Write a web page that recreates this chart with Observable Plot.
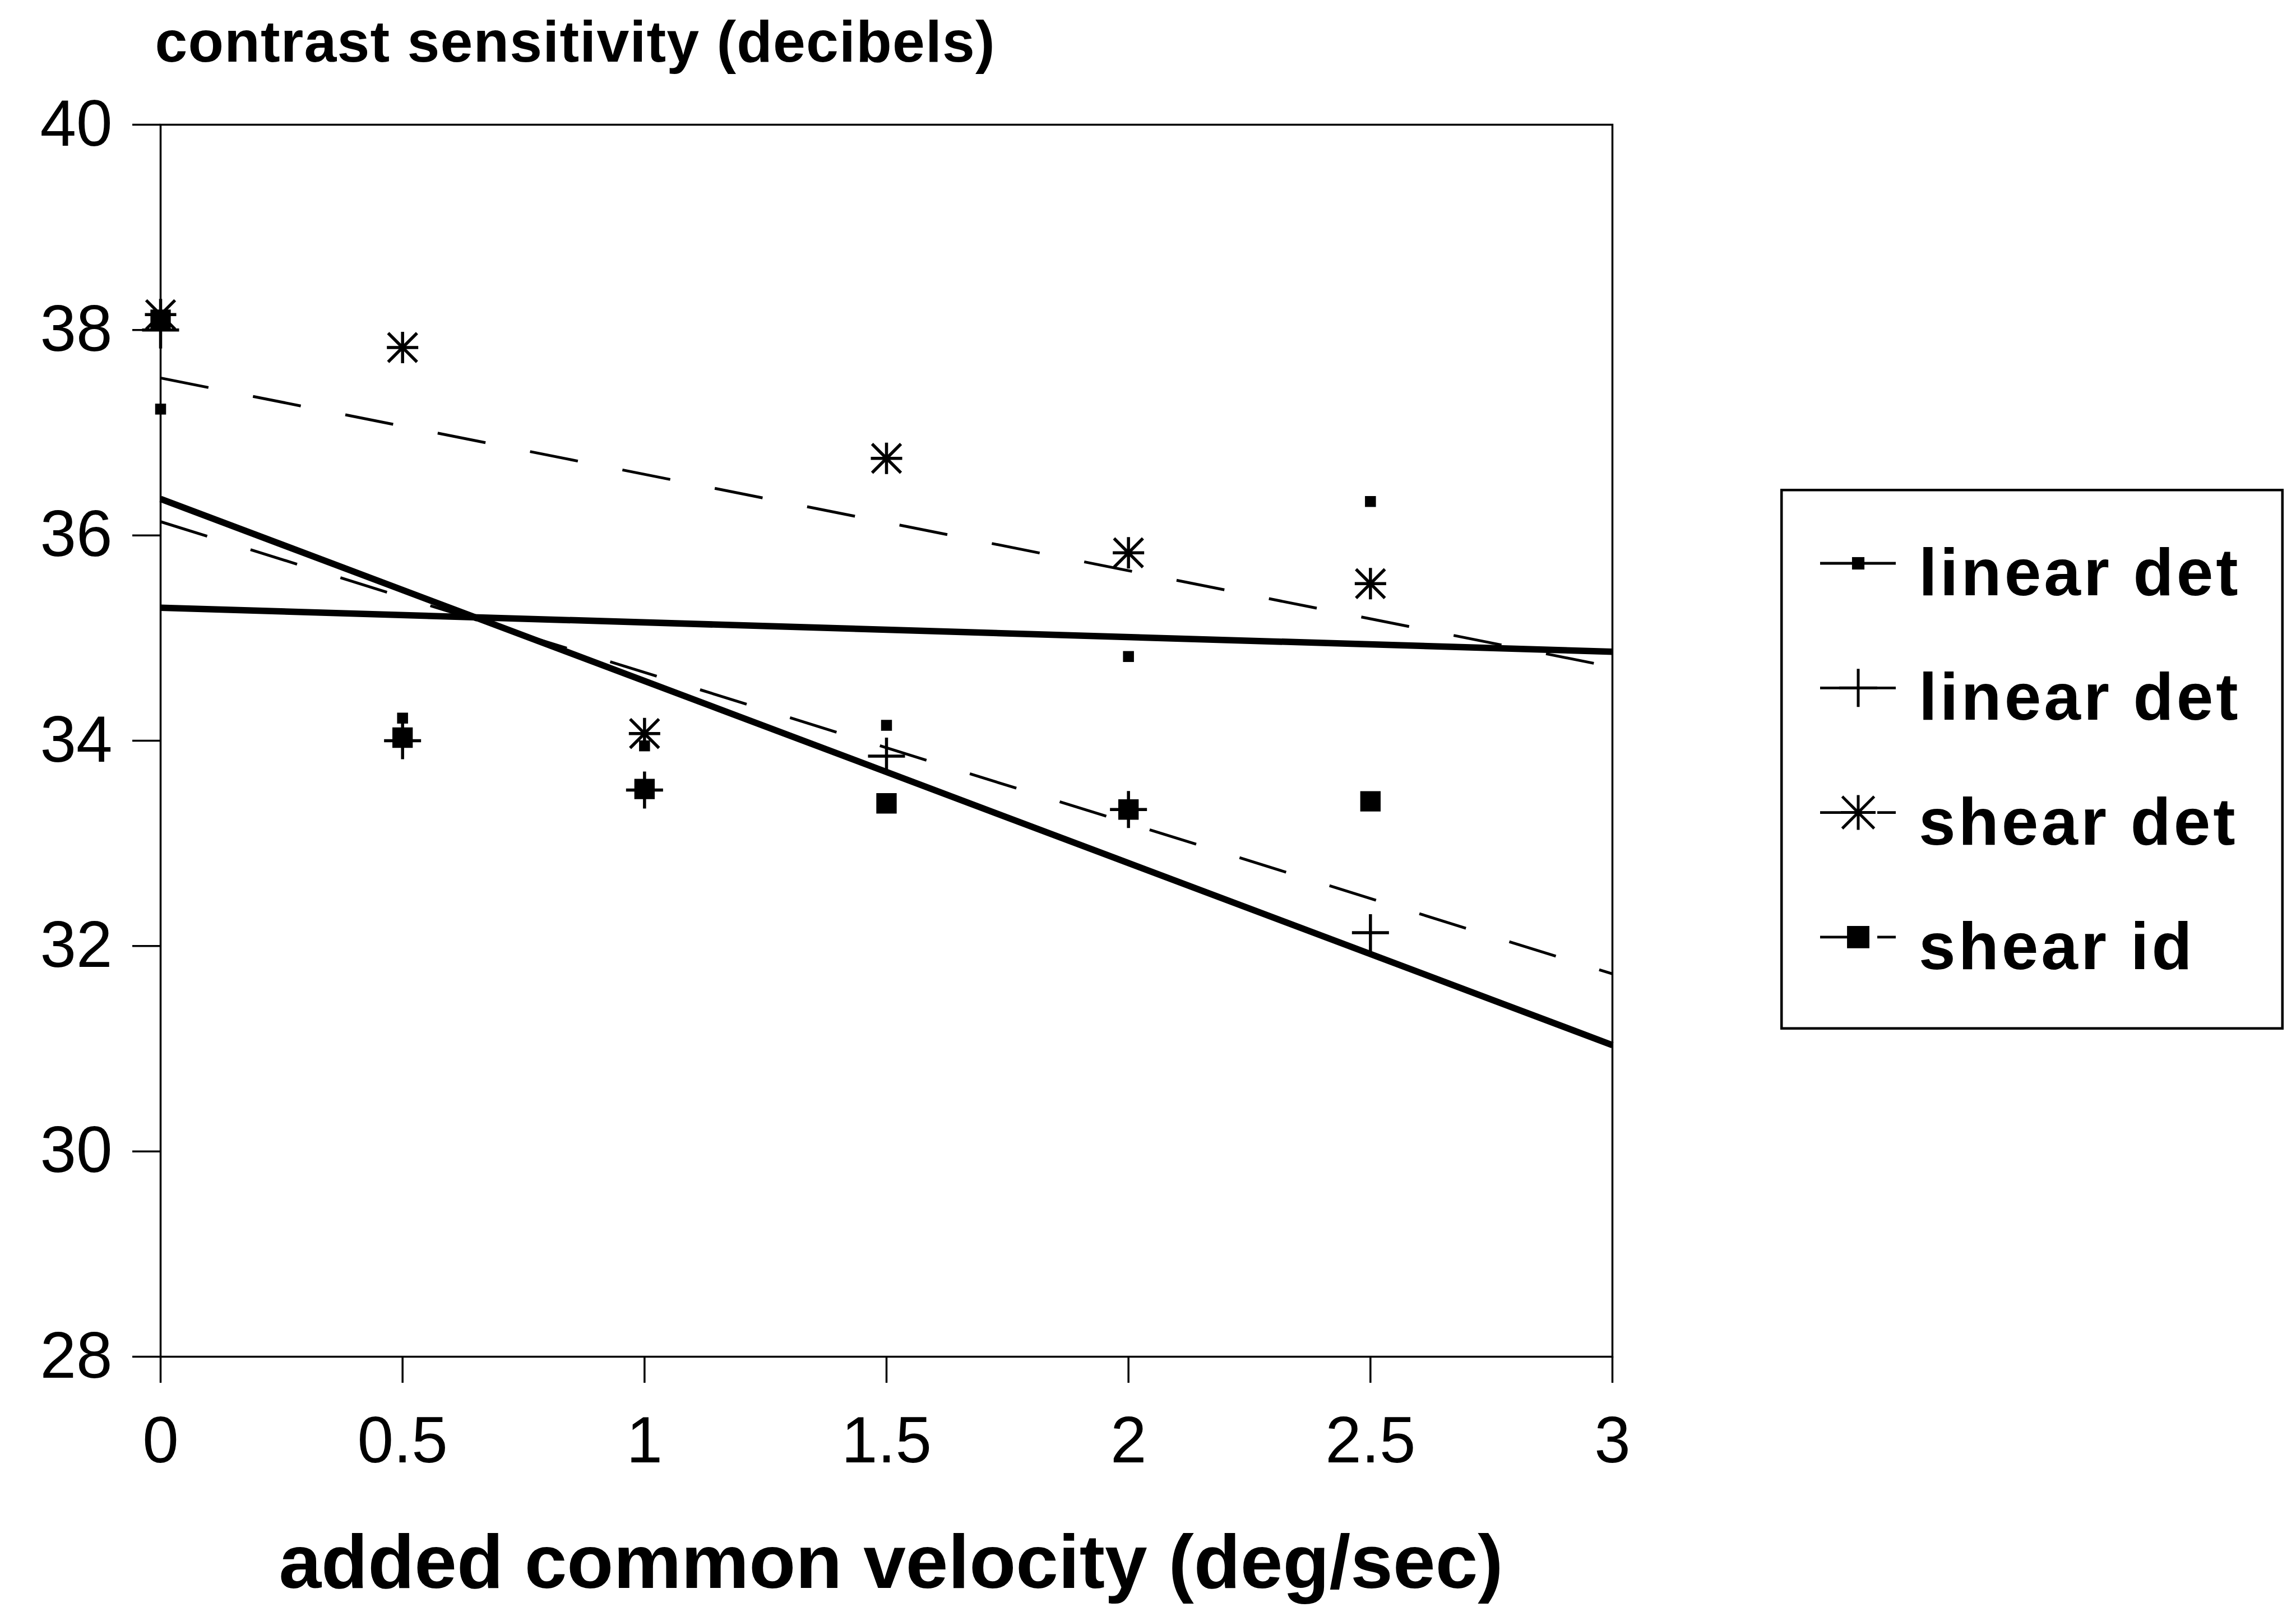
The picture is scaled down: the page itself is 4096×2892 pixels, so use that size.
<!DOCTYPE html>
<html>
<head>
<meta charset="utf-8">
<script src="https://cdn.jsdelivr.net/npm/d3@7"></script>
<script src="https://cdn.jsdelivr.net/npm/@observablehq/plot@0.6"></script>
<style>
html, body { margin: 0; padding: 0; background: #fff; }
#wrap { position: relative; width: 4096px; height: 2892px; overflow: hidden; background: #fff; }
</style>
</head>
<body>
<div id="wrap"></div>
<script>
// ---------- data ----------
const velocity = [0, 0.5, 1, 1.5, 2, 2.5];
const linearDetDot  = [37.23, 34.22, 33.95, 34.15, 34.82, 36.33];
const linearDetPlus = [38.0, 34.0, 33.52, 33.85, 33.33, 32.13];
const shearDet      = [38.15, 37.83, 34.07, 36.75, 35.83, 35.53];
const shearId       = [38.1, 34.03, 33.53, 33.39, 33.33, 33.41];
const seriesNames = ["linear det", "linear det", "shear det", "shear id"];
const seriesValues = [linearDetDot, linearDetPlus, shearDet, shearId];
const trendExtent = [0, 3];
const xTicks = [0, 0.5, 1, 1.5, 2, 2.5, 3];
const yTicks = [28, 30, 32, 34, 36, 38, 40];
const xDomain = [0, 3];
const yDomain = [28, 40];
const yTitle = "contrast sensitivity (decibels)";
const xTitle = "added common velocity (deg/sec)";

// ---------- symbols & styles ----------
const plusSym = {draw(c, size) { const r = Math.sqrt(size / Math.PI); c.moveTo(-r, 0); c.lineTo(r, 0); c.moveTo(0, -r); c.lineTo(0, r); }};
const asteriskSym = {draw(c, size) { const r = Math.sqrt(size / Math.PI); const d = r * 0.92;
  c.moveTo(-r, 0); c.lineTo(r, 0); c.moveTo(0, -r); c.lineTo(0, r);
  c.moveTo(-d, -d); c.lineTo(d, d); c.moveTo(-d, d); c.lineTo(d, -d); }};
const styles = [
  {symbol: d3.symbolSquare, r: 11, lr: 12.5, fill: "black", stroke: "none", dashed: false},
  {symbol: plusSym, r: 33, lr: 34, fill: "none", stroke: "black", dashed: false},
  {symbol: asteriskSym, r: 28, lr: 31, fill: "none", stroke: "black", dashed: true},
  {symbol: d3.symbolSquare, r: 20.5, lr: 22.5, fill: "black", stroke: "none", dashed: true}
];

// ---------- derived: points and least-squares trend lines ----------
const points = seriesValues.map((vals, s) => velocity.map((x, i) => ({s, x, y: vals[i]})));
function fit(xs, ys) {
  const mx = d3.mean(xs), my = d3.mean(ys);
  const b = d3.sum(xs, (x, i) => (x - mx) * (ys[i] - my)) / d3.sum(xs, x => (x - mx) ** 2);
  return x => my + b * (x - mx);
}
const trends = seriesValues.map((vals, s) => { const f = fit(velocity, vals); return trendExtent.map(x => ({s, x, y: f(x)})); });
const solidTrends = trends.filter((t, s) => !styles[s].dashed).flat();
const dashedTrends = trends.filter((t, s) => styles[s].dashed).flat();

const font = "'Liberation Sans', Arial, Helvetica, sans-serif";

const chart = Plot.plot({
  width: 4096,
  height: 2892,
  marginLeft: 286,
  marginRight: 1220,
  marginTop: 222,
  marginBottom: 472,
  style: {fontFamily: font, background: "white", color: "black", overflow: "visible"},
  x: {domain: xDomain},
  y: {domain: yDomain},
  marks: [
    Plot.frame({stroke: "black", strokeWidth: 3.5}),
    Plot.axisX({ticks: xTicks, tickSize: 47, tickPadding: 59, fontSize: 116, strokeWidth: 3.5, label: null, tickFormat: d3.format("")}),
    Plot.axisY({ticks: yTicks, tickSize: 50, tickPadding: 36, fontSize: 116, strokeWidth: 3.5, label: null}),
    Plot.line(solidTrends, {x: "x", y: "y", z: "s", stroke: "black", strokeWidth: 11.5, strokeLinecap: "butt"}),
    Plot.line(dashedTrends, {x: "x", y: "y", z: "s", stroke: "black", strokeWidth: 5, strokeDasharray: "87 81", strokeLinecap: "butt"}),
    ...points.map((pts, s) => Plot.dot(pts, {
      x: "x", y: "y", r: styles[s].r, symbol: styles[s].symbol,
      fill: styles[s].fill, stroke: styles[s].stroke, strokeWidth: 5.5
    })),
    Plot.text([yTitle], {text: d => d, frameAnchor: "top-left", textAnchor: "start", lineAnchor: "bottom",
      dx: -10, dy: -113, fontSize: 104, fontWeight: "bold"}),
    Plot.text([xTitle], {text: d => d, frameAnchor: "bottom", textAnchor: "middle", lineAnchor: "bottom",
      dx: 8, dy: 412, fontSize: 136, fontWeight: "bold"})
  ]
});
d3.select(chart).selectAll("text").filter(function() { return this.textContent === yTitle; })
  .style("letter-spacing", "1.2px");
document.getElementById("wrap").appendChild(chart);

// ---------- legend (right side) ----------
const LW = 898, LH = 965;
const lg = d3.create("svg")
  .attr("width", LW).attr("height", LH)
  .style("position", "absolute").style("left", "3176px").style("top", "872px")
  .style("font-family", font);
lg.append("rect").attr("x", 2.25).attr("y", 2.25).attr("width", LW - 4.5).attr("height", LH - 4.5)
  .attr("fill", "white").attr("stroke", "black").attr("stroke-width", 4.5);
seriesNames.forEach((name, i) => {
  const st = styles[i];
  const g = lg.append("g").attr("transform", `translate(0,${133 + i * 222.3})`);
  const seg = (x1, x2) => g.append("line").attr("x1", x1).attr("x2", x2).attr("y1", 0).attr("y2", 0)
    .attr("stroke", "black").attr("stroke-width", 4.8);
  if (st.dashed) { seg(71, 139); seg(173, 206); } else { seg(71, 206); }
  g.append("path").attr("transform", "translate(139,0)")
    .attr("d", d3.symbol(st.symbol, Math.PI * st.lr * st.lr)())
    .attr("fill", st.fill).attr("stroke", st.stroke).attr("stroke-width", 5);
  g.append("text").attr("x", 247).attr("y", 57).text(name)
    .attr("font-size", 118).attr("font-weight", "bold").style("letter-spacing", "5px").attr("fill", "black");
});
document.getElementById("wrap").appendChild(lg.node());
</script>
</body>
</html>
